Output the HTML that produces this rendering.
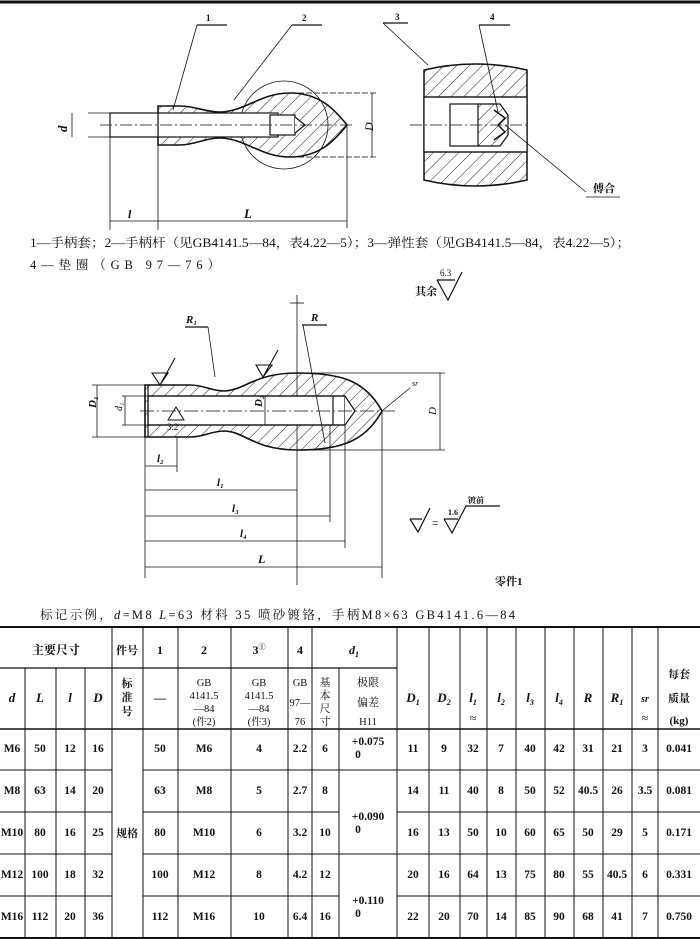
<!DOCTYPE html>
<html><head><meta charset="utf-8"><style>
html,body{margin:0;padding:0;background:#fff;}
svg{display:block;}
text{font-family:"Liberation Serif","Noto Serif CJK SC",serif;fill:#111;}
.b{font-weight:bold;}
</style></head><body>
<svg width="700" height="939" viewBox="0 0 700 939" xmlns="http://www.w3.org/2000/svg">
<defs>
<pattern id="h" width="9" height="9" patternUnits="userSpaceOnUse" patternTransform="rotate(45)">
<line x1="0" y1="0" x2="0" y2="9" stroke="#222" stroke-width="1"/></pattern>
</defs>
<line x1="0" y1="2" x2="700" y2="2" stroke="#111" stroke-width="3"/>

<!-- TOP LEFT FIGURE -->
<g stroke="#111" fill="none" stroke-width="1.2">
<circle cx="284" cy="125" r="44" stroke-width="0.8"/>
<path d="M158,106 L180,106 C195,106 205,112 219,112 C245,112 260,93 290,93 C320,93 335,110 347,125 C335,140 320,157 290,157 C260,157 245,138 219,138 C205,138 195,145 180,145 L158,145 Z" fill="url(#h)" stroke-width="1.6"/>
<rect x="158" y="113" width="120" height="24" fill="#fff"/>
<rect x="270" y="115" width="25" height="20" fill="#fff"/>
<path d="M295,117 L305,125 L295,133" fill="#fff"/>
<rect x="110" y="113" width="48" height="24" fill="#fff"/>
<line x1="100" y1="125" x2="355" y2="125" stroke-dasharray="12,3,2,3" stroke-width="0.7"/>
<line x1="88" y1="113" x2="110" y2="113" stroke-width="0.8"/><line x1="88" y1="137" x2="110" y2="137" stroke-width="0.8"/>
<line x1="72" y1="113" x2="72" y2="137" stroke-width="0.8"/>
<line x1="290" y1="93" x2="378" y2="93" stroke-width="0.7" stroke-dasharray="6,2"/>
<line x1="290" y1="157" x2="378" y2="157" stroke-width="0.7" stroke-dasharray="6,2"/>
<line x1="372" y1="93" x2="372" y2="157" stroke-width="0.8"/>
<line x1="110" y1="137" x2="110" y2="230" stroke-width="0.8"/>
<line x1="158" y1="145" x2="158" y2="230" stroke-width="0.8"/>
<line x1="347" y1="125" x2="347" y2="228" stroke-width="0.8"/>
<line x1="110" y1="221" x2="347" y2="221" stroke-width="0.8"/>
<polyline points="197,25 227,25" /><line x1="197" y1="25" x2="173" y2="110" stroke-width="0.8"/>
<polyline points="292,25 322,25" /><line x1="292" y1="25" x2="234" y2="100" stroke-width="0.8"/>
</g>
<text x="206" y="21" font-size="9" class="b">1</text>
<text x="302" y="21" font-size="9" class="b">2</text>
<text x="55" y="130" font-size="13" font-style="italic" class="b" transform="rotate(-90 62 125)">d</text>
<text x="362" y="130" font-size="12" font-style="italic" transform="rotate(-90 368 125)">D</text>
<text x="128" y="218" font-size="12" font-style="italic" class="b">l</text>
<text x="244" y="218" font-size="13" font-style="italic" class="b">L</text>

<!-- TOP RIGHT FIGURE -->
<g stroke="#111" fill="none" stroke-width="1.2">
<path d="M424,70 Q475,58 527,70 L527,180 Q475,192 424,180 Z" fill="url(#h)" stroke-width="1.5"/>
<rect x="424" y="97" width="103" height="55" fill="#fff"/>
<line x1="424" y1="97" x2="527" y2="97"/><line x1="424" y1="152" x2="527" y2="152"/>
<rect x="450" y="104" width="28" height="42" fill="#fff"/>
<path d="M478,104 L500,104 L508,115 L508,135 L500,146 L478,146" fill="url(#h)"/>
<path d="M494,110 L505,118 L498,125 L505,132 L494,140" stroke-width="1.4"/>
<line x1="410" y1="125" x2="530" y2="125" stroke-dasharray="12,3,2,3" stroke-width="0.7"/>
<polyline points="383,23 408,23"/><line x1="383" y1="23" x2="428" y2="65" stroke-width="0.8"/>
<polyline points="479,25 510,25"/><line x1="479" y1="25" x2="498" y2="112" stroke-width="0.8"/>
<line x1="505" y1="125" x2="586" y2="192" stroke-width="0.8"/>
<line x1="586" y1="197" x2="620" y2="197" stroke-width="0.8"/>
</g>
<text x="395" y="20" font-size="9" class="b">3</text>
<text x="490" y="20" font-size="9" class="b">4</text>
<text x="593" y="192" font-size="11" class="b">傅合</text>

<!-- Captions -->
<text x="30" y="247" font-size="12.5" textLength="600" lengthAdjust="spacingAndGlyphs">1—手柄套；2—手柄杆（见GB4141.5—84，表4.22—5）；3—弹性套（见GB4141.5—84，表4.22—5）；</text>
<text x="30" y="269" font-size="12.5" textLength="190" lengthAdjust="spacing">4—垫圈（GB 97—76）</text>

<!-- 其余 -->
<text x="415" y="295" font-size="11" class="b">其余</text>
<text x="440" y="276" font-size="9">6.3</text>
<path d="M437,280 L448,300 L462,272 M437,280 L455,280" stroke="#111" fill="none" stroke-width="1.2"/>

<!-- MIDDLE FIGURE -->
<g stroke="#111" fill="none" stroke-width="1.2">
<line x1="297" y1="295" x2="297" y2="585" stroke-width="0.8"/>
<line x1="290" y1="303" x2="304" y2="303" stroke-width="0.8"/>
<path d="M145,385 L190,385 C205,385 210,391 225,391 C245,390 255,373 297,373 C340,373 365,380 382,411 C365,442 340,450 297,450 C255,450 245,432 225,431 C210,431 205,437 190,437 L145,437 Z" fill="url(#h)" stroke-width="1.6"/>
<rect x="148" y="396" width="197" height="29" fill="#fff"/>
<path d="M345,396 L355,411 L345,425" fill="#fff"/>
<line x1="148" y1="396" x2="345" y2="396"/><line x1="148" y1="425" x2="345" y2="425"/>
<line x1="148" y1="385" x2="148" y2="437"/>
<line x1="333" y1="396" x2="333" y2="425"/>
<line x1="140" y1="411" x2="395" y2="411" stroke-dasharray="14,3,2,3" stroke-width="0.7"/>
<line x1="265" y1="396" x2="265" y2="425" stroke-width="0.8"/>
<line x1="92" y1="385" x2="145" y2="385" stroke-width="0.8"/><line x1="92" y1="437" x2="145" y2="437" stroke-width="0.8"/>
<line x1="97" y1="385" x2="97" y2="437" stroke-width="0.8"/>
<line x1="122" y1="396" x2="148" y2="396" stroke-width="0.8"/><line x1="122" y1="425" x2="148" y2="425" stroke-width="0.8"/>
<line x1="125" y1="396" x2="125" y2="425" stroke-width="0.8"/>
<line x1="297" y1="373" x2="445" y2="373" stroke-width="0.8"/><line x1="297" y1="450" x2="445" y2="450" stroke-width="0.8"/>
<line x1="440" y1="373" x2="440" y2="450" stroke-width="0.8"/>
<line x1="185" y1="327" x2="208" y2="327"/><line x1="208" y1="327" x2="215" y2="377" stroke-width="0.8"/>
<line x1="302" y1="325" x2="327" y2="325"/><line x1="303" y1="325" x2="325" y2="443" stroke-width="0.8"/>
<line x1="410" y1="388" x2="382" y2="411" stroke-width="0.8"/>
<path d="M152,373 L168,373 L160,385 Z M160,385 L175,358" stroke-width="1.1"/>
<path d="M256,365 L272,365 L263,377 Z M263,377 L278,350" stroke-width="1.1"/>
<path d="M168,420 L176,407 L184,420 Z" stroke-width="1"/>
<line x1="145" y1="437" x2="145" y2="578" stroke-width="0.8"/>
<line x1="177" y1="437" x2="177" y2="472" stroke-width="0.8"/>
<line x1="330" y1="425" x2="330" y2="522" stroke-width="0.8"/>
<line x1="345" y1="425" x2="345" y2="548" stroke-width="0.8"/>
<line x1="382" y1="411" x2="382" y2="578" stroke-width="0.8"/>
<line x1="145" y1="466" x2="177" y2="466" stroke-width="0.8"/>
<line x1="145" y1="490" x2="297" y2="490" stroke-width="0.8"/>
<line x1="145" y1="516" x2="330" y2="516" stroke-width="0.8"/>
<line x1="145" y1="541" x2="345" y2="541" stroke-width="0.8"/>
<line x1="145" y1="567" x2="382" y2="567" stroke-width="0.8"/>
</g>
<text x="186" y="323" font-size="11" font-style="italic" class="b">R₁</text>
<text x="311" y="321" font-size="11" font-style="italic" class="b">R</text>
<text x="412" y="386" font-size="8" font-style="italic">sr</text>
<text x="167" y="430" font-size="9">3.2</text>
<text x="95" y="415" font-size="11" font-style="italic" class="b" transform="rotate(-90 92 411)">D₁</text>
<text x="118" y="415" font-size="10" font-style="italic" transform="rotate(-90 118 411)">d₁</text>
<text x="262" y="415" font-size="11" font-style="italic" class="b" transform="rotate(-90 258 411)">D₂</text>
<text x="428" y="415" font-size="11" font-style="italic" transform="rotate(-90 432 411)">D</text>
<text x="157" y="462" font-size="11" font-style="italic" class="b">l₂</text>
<text x="217" y="486" font-size="11" font-style="italic" class="b">l₁</text>
<text x="232" y="512" font-size="11" font-style="italic" class="b">l₃</text>
<text x="240" y="537" font-size="11" font-style="italic" class="b">l₄</text>
<text x="258" y="563" font-size="12" font-style="italic" class="b">L</text>
<path d="M410,519 L418,532 L430,508 M410,519 L422,519" stroke="#111" fill="none" stroke-width="1.2"/>
<text x="432" y="527" font-size="12">=</text>
<path d="M444,519 L452,533 L466,506 L500,506 M444,519 L458,519" stroke="#111" fill="none" stroke-width="1.2"/>
<text x="448" y="515" font-size="8" class="b">1.6</text>
<text x="468" y="503" font-size="8" class="b">镀前</text>
<text x="495" y="585" font-size="11" class="b">零件1</text>

<text x="40" y="619" font-size="12.5" textLength="475" lengthAdjust="spacing">标记示例，<tspan font-style="italic">d</tspan>=M8  <tspan font-style="italic">L</tspan>=63  材料  35  喷砂镀铬，手柄M8×63  GB4141.6—84</text>

<!-- TABLE -->
<g stroke="#111" stroke-width="1.2">
<line x1="0" y1="627" x2="700" y2="627" stroke-width="2"/>
<line x1="0" y1="668" x2="397" y2="668"/>
<line x1="0" y1="729" x2="700" y2="729" stroke-width="1.5"/>
<line x1="0" y1="938" x2="700" y2="938" stroke-width="2"/>
<g stroke-width="1">
<line x1="25" y1="668" x2="25" y2="938"/>
<line x1="56" y1="668" x2="56" y2="938"/>
<line x1="85" y1="668" x2="85" y2="938"/>
<line x1="112" y1="627" x2="112" y2="938"/>
<line x1="143" y1="627" x2="143" y2="938"/>
<line x1="178" y1="627" x2="178" y2="938"/>
<line x1="231" y1="627" x2="231" y2="938"/>
<line x1="288" y1="627" x2="288" y2="938"/>
<line x1="312" y1="627" x2="312" y2="938"/>
<line x1="339" y1="668" x2="339" y2="938"/>
<line x1="397" y1="627" x2="397" y2="938"/>
<line x1="429" y1="627" x2="429" y2="938"/>
<line x1="460" y1="627" x2="460" y2="938"/>
<line x1="487" y1="627" x2="487" y2="938"/>
<line x1="516" y1="627" x2="516" y2="938"/>
<line x1="545" y1="627" x2="545" y2="938"/>
<line x1="574" y1="627" x2="574" y2="938"/>
<line x1="603" y1="627" x2="603" y2="938"/>
<line x1="632" y1="627" x2="632" y2="938"/>
<line x1="658" y1="627" x2="658" y2="938"/>
</g>
<g stroke-width="0.9">
<line x1="0" y1="770" x2="112" y2="770"/><line x1="143" y1="770" x2="397" y2="770"/><line x1="397" y1="770" x2="700" y2="770"/>
<line x1="0" y1="812" x2="112" y2="812"/><line x1="143" y1="812" x2="339" y2="812"/><line x1="397" y1="812" x2="700" y2="812"/>
<line x1="0" y1="854" x2="112" y2="854"/><line x1="143" y1="854" x2="397" y2="854"/><line x1="397" y1="854" x2="700" y2="854"/>
<line x1="0" y1="896" x2="112" y2="896"/><line x1="143" y1="896" x2="339" y2="896"/><line x1="397" y1="896" x2="700" y2="896"/>
</g>
</g>
<g font-size="12" text-anchor="middle" class="b">
<text x="56" y="654">主要尺寸</text>
<text x="127" y="654" font-size="11">件号</text>
<text x="160" y="654">1</text>
<text x="204" y="654">2</text>
<text x="259" y="654">3<tspan font-size="7" dy="-5">①</tspan></text>
<text x="300" y="654">4</text>
<text x="354" y="654" font-style="italic">d<tspan font-size="8" dy="3">1</tspan></text>
<text x="12" y="702" font-style="italic" font-size="13">d</text>
<text x="40" y="702" font-style="italic" font-size="13">L</text>
<text x="70" y="702" font-style="italic" font-size="13">l</text>
<text x="98" y="702" font-style="italic" font-size="13">D</text>
<text x="127" y="687" font-size="11">标</text><text x="127" y="701" font-size="11">准</text><text x="127" y="715" font-size="11">号</text>
<text x="160" y="702">—</text>
<g font-weight="normal" font-size="10.5">
<text x="204" y="686">GB</text><text x="204" y="699">4141.5</text><text x="204" y="712">—84</text><text x="204" y="725">(件2)</text>
<text x="259" y="686">GB</text><text x="259" y="699">4141.5</text><text x="259" y="712">—84</text><text x="259" y="725">(件3)</text>
<text x="300" y="686">GB</text><text x="300" y="706">97—</text><text x="300" y="725">76</text>
<text x="325" y="686" font-size="11">基</text><text x="325" y="699" font-size="11">本</text><text x="325" y="712" font-size="11">尺</text><text x="325" y="725" font-size="11">寸</text>
<text x="368" y="686" font-size="11">极限</text><text x="368" y="706" font-size="11">偏差</text><text x="368" y="725">H11</text>
</g>
<g font-style="italic" font-size="13">
<text x="413" y="702">D<tspan font-size="8" dy="3">1</tspan></text>
<text x="444" y="702">D<tspan font-size="8" dy="3">2</tspan></text>
<text x="473" y="702">l<tspan font-size="8" dy="3">1</tspan></text>
<text x="501" y="702">l<tspan font-size="8" dy="3">2</tspan></text>
<text x="530" y="702">l<tspan font-size="8" dy="3">3</tspan></text>
<text x="559" y="702">l<tspan font-size="8" dy="3">4</tspan></text>
<text x="588" y="702">R</text>
<text x="617" y="702">R<tspan font-size="8" dy="3">1</tspan></text>
<text x="645" y="702" font-size="10">sr</text>
</g>
<text x="473" y="722" font-weight="normal">≈</text>
<text x="645" y="722" font-weight="normal">≈</text>
<text x="679" y="678" font-size="11">每套</text><text x="679" y="702" font-size="11">质量</text><text x="679" y="724" font-size="11">(kg)</text>
<text x="127" y="837" font-size="11">规格</text>
</g>
<g font-size="11.5" text-anchor="middle" class="b">
<text x="12" y="752">M6</text><text x="40" y="752">50</text><text x="70" y="752">12</text><text x="98" y="752">16</text><text x="160" y="752">50</text><text x="204" y="752">M6</text><text x="259" y="752">4</text><text x="300" y="752">2.2</text><text x="325" y="752">6</text>
<text x="12" y="794">M8</text><text x="40" y="794">63</text><text x="70" y="794">14</text><text x="98" y="794">20</text><text x="160" y="794">63</text><text x="204" y="794">M8</text><text x="259" y="794">5</text><text x="300" y="794">2.7</text><text x="325" y="794">8</text>
<text x="12" y="836">M10</text><text x="40" y="836">80</text><text x="70" y="836">16</text><text x="98" y="836">25</text><text x="160" y="836">80</text><text x="204" y="836">M10</text><text x="259" y="836">6</text><text x="300" y="836">3.2</text><text x="325" y="836">10</text>
<text x="12" y="878">M12</text><text x="40" y="878">100</text><text x="70" y="878">18</text><text x="98" y="878">32</text><text x="160" y="878">100</text><text x="204" y="878">M12</text><text x="259" y="878">8</text><text x="300" y="878">4.2</text><text x="325" y="878">12</text>
<text x="12" y="920">M16</text><text x="40" y="920">112</text><text x="70" y="920">20</text><text x="98" y="920">36</text><text x="160" y="920">112</text><text x="204" y="920">M16</text><text x="259" y="920">10</text><text x="300" y="920">6.4</text><text x="325" y="920">16</text>
<text x="368" y="745">+0.075</text><text x="358" y="758">0</text>
<text x="368" y="820">+0.090</text><text x="358" y="833">0</text>
<text x="368" y="904">+0.110</text><text x="358" y="917">0</text>
<text x="413" y="752">11</text><text x="444" y="752">9</text><text x="473" y="752">32</text><text x="501" y="752">7</text><text x="530" y="752">40</text><text x="559" y="752">42</text><text x="588" y="752">31</text><text x="617" y="752">21</text><text x="645" y="752">3</text><text x="679" y="752">0.041</text>
<text x="413" y="794">14</text><text x="444" y="794">11</text><text x="473" y="794">40</text><text x="501" y="794">8</text><text x="530" y="794">50</text><text x="559" y="794">52</text><text x="588" y="794">40.5</text><text x="617" y="794">26</text><text x="645" y="794">3.5</text><text x="679" y="794">0.081</text>
<text x="413" y="836">16</text><text x="444" y="836">13</text><text x="473" y="836">50</text><text x="501" y="836">10</text><text x="530" y="836">60</text><text x="559" y="836">65</text><text x="588" y="836">50</text><text x="617" y="836">29</text><text x="645" y="836">5</text><text x="679" y="836">0.171</text>
<text x="413" y="878">20</text><text x="444" y="878">16</text><text x="473" y="878">64</text><text x="501" y="878">13</text><text x="530" y="878">75</text><text x="559" y="878">80</text><text x="588" y="878">55</text><text x="617" y="878">40.5</text><text x="645" y="878">6</text><text x="679" y="878">0.331</text>
<text x="413" y="920">22</text><text x="444" y="920">20</text><text x="473" y="920">70</text><text x="501" y="920">14</text><text x="530" y="920">85</text><text x="559" y="920">90</text><text x="588" y="920">68</text><text x="617" y="920">41</text><text x="645" y="920">7</text><text x="679" y="920">0.750</text>
</g>
</svg>
</body></html>
